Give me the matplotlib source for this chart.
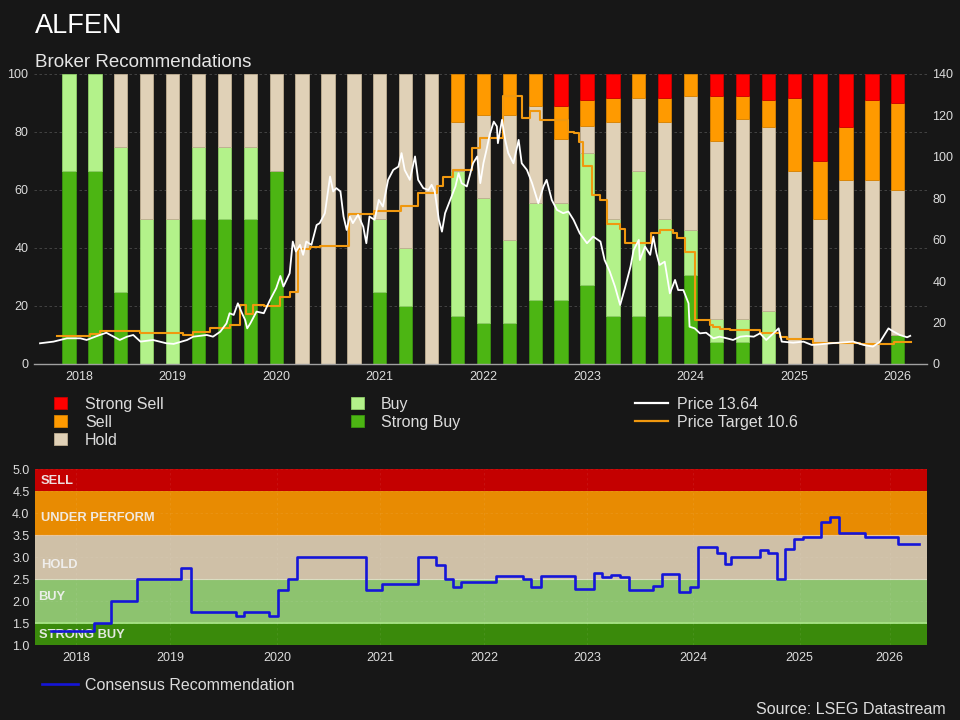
import matplotlib
matplotlib.use("Agg")
import matplotlib.pyplot as plt
from matplotlib.patches import Rectangle
from matplotlib.lines import Line2D
from matplotlib.transforms import blended_transform_factory
import numpy as np

plt.rcParams['font.family'] = ['Liberation Sans', 'DejaVu Sans']

# ---------------- data ----------------
title = "ALFEN"
subtitle = "Broker Recommendations"

bar_dates = [2018.00, 2018.25, 2018.50, 2018.75, 2019.00, 2019.25, 2019.50, 2019.75,
             2020.00, 2020.25, 2020.50, 2020.75, 2021.00, 2021.25, 2021.50, 2021.75,
             2022.00, 2022.25, 2022.50, 2022.75, 2023.00, 2023.25, 2023.50, 2023.75,
             2024.00, 2024.25, 2024.50, 2024.75, 2025.00, 2025.25, 2025.50, 2025.75,
             2026.00]
strong_buy = [66.7, 66.7, 25, 0, 0, 50, 50, 50, 66.7, 0, 0, 0, 25, 20, 0, 16.7,
              14.3, 14.3, 22.2, 22.2, 27.3, 16.7, 16.7, 16.7, 30.8, 7.7, 7.7, 0, 0, 0, 0, 0, 10]
buy = [33.3, 33.3, 50, 50, 50, 25, 25, 25, 0, 0, 0, 0, 25, 20, 0, 50,
       42.9, 28.6, 33.3, 33.3, 45.5, 33.3, 50, 33.3, 15.4, 7.7, 7.7, 18.2, 0, 0, 0, 0, 0]
hold = [0, 0, 25, 50, 50, 25, 25, 25, 33.3, 100, 100, 100, 50, 60, 100, 16.7,
        28.6, 42.9, 33.3, 22.2, 9.1, 33.3, 25, 33.3, 46.2, 61.5, 69.2, 63.6, 66.7, 50, 63.6, 63.6, 50]
sell = [0, 0, 0, 0, 0, 0, 0, 0, 0, 0, 0, 0, 0, 0, 0, 16.7,
        14.3, 14.3, 11.1, 11.1, 9.1, 8.3, 8.3, 8.3, 7.7, 15.4, 7.7, 9.1, 25, 20, 18.2, 27.3, 30]
strong_sell = [0, 0, 0, 0, 0, 0, 0, 0, 0, 0, 0, 0, 0, 0, 0, 0,
               0, 0, 0, 11.1, 9.1, 8.3, 0, 8.3, 0, 7.7, 7.7, 9.1, 8.3, 30, 18.2, 9.1, 10]

price_dates = [2017.72, 2017.85, 2017.98, 2018.11, 2018.17, 2018.27, 2018.36, 2018.43, 2018.49,
               2018.56, 2018.62, 2018.69, 2018.81, 2018.94, 2019.01, 2019.14, 2019.20, 2019.33,
               2019.39, 2019.46, 2019.52, 2019.55, 2019.59, 2019.63, 2019.67, 2019.70, 2019.72,
               2019.75, 2019.81, 2019.88, 2019.94, 2020.00, 2020.04, 2020.07, 2020.10, 2020.13,
               2020.16, 2020.19, 2020.23, 2020.26, 2020.29, 2020.34, 2020.39, 2020.42, 2020.47,
               2020.52, 2020.55, 2020.58, 2020.62, 2020.65, 2020.68, 2020.71, 2020.74, 2020.79,
               2020.84, 2020.87, 2020.90, 2020.95, 2020.99, 2021.03, 2021.08, 2021.13, 2021.18,
               2021.21, 2021.24, 2021.29, 2021.34, 2021.37, 2021.42, 2021.47, 2021.50, 2021.53,
               2021.57, 2021.60, 2021.63, 2021.68, 2021.73, 2021.76, 2021.79, 2021.84, 2021.87,
               2021.90, 2021.94, 2021.97, 2022.00, 2022.03, 2022.06, 2022.10, 2022.13, 2022.14,
               2022.18, 2022.21, 2022.24, 2022.29, 2022.34, 2022.37, 2022.42, 2022.47, 2022.53,
               2022.58, 2022.61, 2022.66, 2022.71, 2022.77, 2022.82, 2022.87, 2022.93, 2023.00,
               2023.06, 2023.13, 2023.17, 2023.22, 2023.27, 2023.32, 2023.37, 2023.42, 2023.45,
               2023.50, 2023.51, 2023.56, 2023.61, 2023.64, 2023.67, 2023.70, 2023.75, 2023.80,
               2023.85, 2023.88, 2023.93, 2023.98, 2023.99, 2024.04, 2024.09, 2024.15, 2024.22,
               2024.28, 2024.35, 2024.41, 2024.48, 2024.54, 2024.61, 2024.67, 2024.73, 2024.80,
               2024.85, 2024.88, 2024.99, 2025.09, 2025.17, 2025.25, 2025.35, 2025.44, 2025.57,
               2025.67, 2025.76, 2025.83, 2025.88, 2025.91, 2025.96, 2026.02, 2026.09, 2026.12]
price_values = [10.0, 10.8, 12.4, 12.4, 11.6, 13.5, 15.1, 13.2, 11.6,
                13.2, 14.0, 10.8, 11.6, 10.0, 9.7, 11.6, 13.2, 14.0,
                13.2, 15.6, 19.6, 24.5, 23.7, 29.3, 24.5, 21.3, 17.2,
                19.6, 25.3, 24.5, 30.9, 36.6, 42.5, 37.4, 40.6, 43.8,
                59.1, 54.3, 57.5, 52.7, 59.1, 57.5, 67.1, 68.0, 72.8,
                90.5, 83.3, 84.9, 83.3, 71.2, 64.7, 71.2, 68.0, 72.0,
                66.3, 58.3, 71.2, 69.6, 79.2, 76.0, 88.9, 93.7, 95.3,
                101.8, 93.7, 88.9, 100.2, 88.9, 84.9, 84.0, 86.5, 83.3,
                69.6, 63.9, 72.8, 79.2, 85.7, 92.1, 87.3, 85.7, 91.3,
                96.9, 100.2, 87.3, 96.9, 103.4, 110.6, 117.0, 114.7, 106.6,
                117.9, 108.2, 101.8, 96.9, 108.2, 96.9, 93.7, 87.3, 77.6,
                85.7, 88.9, 79.2, 74.4, 72.8, 73.6, 69.6, 63.1, 58.3,
                61.5, 59.1, 50.2, 44.6, 37.4, 28.5, 37.4, 47.0, 55.0,
                59.9, 50.2, 56.7, 52.7, 61.5, 53.5, 47.8, 49.4, 34.1,
                40.6, 35.7, 35.7, 29.3, 18.0, 17.2, 14.8, 15.1, 12.4,
                13.2, 12.4, 11.6, 13.2, 13.5, 13.2, 14.8, 11.6, 14.8,
                17.2, 10.8, 10.3, 10.8, 9.2, 9.5, 10.0, 10.3, 10.8,
                9.2, 8.4, 10.8, 14.8, 17.2, 15.6, 14.0, 12.9, 13.6]

target_dates = [2017.88, 2018.20, 2018.30, 2018.69, 2019.10, 2019.20, 2019.36, 2019.55, 2019.65,
                2019.71, 2019.78, 2019.88, 2020.04, 2020.13, 2020.21, 2020.33, 2020.42, 2020.70,
                2020.94, 2021.20, 2021.37, 2021.55, 2021.61, 2021.71, 2021.89, 2021.97, 2022.19,
                2022.37, 2022.45, 2022.55, 2022.82, 2022.87, 2022.92, 2022.96, 2023.05, 2023.13,
                2023.19, 2023.32, 2023.37, 2023.62, 2023.70, 2023.83, 2023.87, 2023.95, 2024.04,
                2024.19, 2024.22, 2024.28, 2024.38, 2024.67, 2024.86, 2024.93, 2025.18, 2025.64,
                2025.96, 2026.13]
target_values = [13.5, 14.5, 16.1, 14.8, 14.0, 15.6, 17.2, 18.8, 28.5,
                 24.2, 28.5, 28.0, 32.5, 34.6, 55.4, 56.5, 57.0, 72.5,
                 74.0, 76.3, 82.4, 86.0, 90.5, 93.7, 104.2, 109.0, 129.5,
                 118.7, 121.9, 117.6, 112.2, 111.4, 107.4, 95.7, 81.6, 79.2,
                 67.6, 65.1, 58.6, 63.1, 64.7, 63.4, 60.7, 54.3, 21.3,
                 18.8, 18.0, 16.7, 16.4, 15.1, 12.9, 12.2, 10.3, 9.5,
                 10.5, 10.6]

cons_dates = [2017.82, 2018.23, 2018.40, 2018.65, 2019.07, 2019.17, 2019.60, 2019.68, 2019.92,
              2020.01, 2020.11, 2020.19, 2020.86, 2021.02, 2021.36, 2021.54, 2021.62, 2021.70,
              2021.78, 2022.12, 2022.38, 2022.46, 2022.55, 2022.88, 2023.06, 2023.14, 2023.23,
              2023.32, 2023.40, 2023.63, 2023.72, 2023.89, 2023.99, 2024.07, 2024.25, 2024.33,
              2024.39, 2024.67, 2024.75, 2024.83, 2024.91, 2025.00, 2025.08, 2025.26, 2025.34,
              2025.43, 2025.68, 2026.00, 2026.20]
cons_values = [1.33, 1.5, 2.0, 2.5, 2.75, 1.75, 1.67, 1.75, 1.67,
               2.25, 2.5, 3.0, 2.25, 2.4, 3.0, 2.83, 2.5, 2.33,
               2.43, 2.58, 2.5, 2.33, 2.57, 2.27, 2.65, 2.54, 2.6,
               2.54, 2.25, 2.34, 2.61, 2.21, 2.31, 3.24, 3.09, 2.84,
               3.0, 3.16, 3.09, 2.5, 3.18, 3.41, 3.47, 3.79, 3.92,
               3.54, 3.47, 3.29, 3.29]

year_labels = ["2018", "2019", "2020", "2021", "2022", "2023", "2024", "2025", "2026"]
top_tick_pos = [2018.1, 2019, 2020, 2021, 2022, 2023, 2024, 2025, 2026]
bot_tick_pos = [2018.06, 2018.97, 2020, 2021, 2022, 2023, 2024.02, 2025.05, 2025.92]

band_edges = [1.0, 1.5, 2.5, 3.5, 4.5, 5.0]
band_names = ["STRONG BUY", "BUY", "HOLD", "UNDER PERFORM", "SELL"]
band_label_y = [1.23, 2.09, 2.82, 3.89, 4.74]

price_last = 13.64
target_last = 10.6

# ---------------- style ----------------
BG = '#171717'
C_SS, C_S, C_H, C_B, C_SB = '#ff0000', '#ff9a00', '#e0d1b7', '#b3f28a', '#4cb513'
E_SS, E_S, E_H, E_B, E_SB = '#cc0000', '#d98300', '#bfae92', '#8fcf68', '#3a9410'
BAND_COLS = ['#3a8a0b', '#8dc36f', '#cfc0a7', '#e88b02', '#c40000']
TXT = '#dcdcdc'

W, H = 960, 720
fig = plt.figure(figsize=(9.6, 7.2), dpi=100, facecolor=BG)

def fx(px):
    return px / W

def fy(py):
    return 1 - py / H

# ---------------- top chart ----------------
xmin, xmax = 2017.662, 2026.282
ax = fig.add_axes([fx(34), fy(364), fx(927) - fx(34), fy(74) - fy(364)])
ax.set_facecolor(BG)
ax.set_xlim(xmin, xmax)
ax.set_ylim(0, 100)

dates = np.array(bar_dates)
segments = [np.array(strong_buy), np.array(buy), np.array(hold), np.array(sell), np.array(strong_sell)]
fills = [C_SB, C_B, C_H, C_S, C_SS]
edges = [E_SB, E_B, E_H, E_S, E_SS]
bw = 0.128
bottom = np.zeros(len(dates))
for vals, fc, ec in zip(segments, fills, edges):
    keep = vals > 0
    ax.bar(dates[keep], vals[keep], width=bw, bottom=bottom[keep], color=fc, edgecolor=ec,
           lw=0.6, zorder=2)
    bottom = bottom + vals

ax.set_yticks(np.arange(0, 101, 20))
ax.yaxis.grid(True, ls=(0, (3, 3)), color='#4a4a4a', lw=0.6, zorder=0)
ax.set_axisbelow(True)
ax.set_xticks(top_tick_pos)
ax.set_xticklabels(year_labels)
ax.tick_params(axis='both', length=0, colors=TXT, labelsize=9)
ax.tick_params(axis='x', pad=5)
ax.tick_params(axis='y', pad=4)
for sp in ['left', 'right', 'top']:
    ax.spines[sp].set_visible(False)
ax.spines['bottom'].set_color('#a0a0a0')
ax.spines['bottom'].set_linewidth(1.0)

ax2 = ax.twinx()
ax2.set_ylim(0, 140)
ax2.set_yticks(np.arange(0, 141, 20))
ax2.tick_params(axis='y', length=0, colors=TXT, labelsize=9, pad=4)
for sp in ax2.spines.values():
    sp.set_visible(False)
ax2.plot(target_dates, target_values, drawstyle='steps-post', color='#f0980f', lw=1.5, zorder=3)
ax2.plot(price_dates, price_values, color='white', lw=1.3, zorder=4)

# ---------------- bottom chart ----------------
bx = fig.add_axes([fx(35), fy(645), fx(927) - fx(35), fy(469.3) - fy(645)])
bx.set_facecolor(BG)
bx.set_xlim(xmin, xmax)
bx.set_ylim(1, 5)
for i in range(len(band_names)):
    bx.axhspan(band_edges[i], band_edges[i + 1], color=BAND_COLS[i], lw=0, zorder=0)
bx.axhline(1.5, color='#a6e385', lw=1.3, zorder=1)
bx.axhline(2.5, color='#d9dcc0', lw=0.8, zorder=1)
bx.axhline(3.5, color='#e8c49a', lw=0.8, zorder=1)
bx.grid(True, ls=(0, (3, 3)), color='white', alpha=0.08, lw=0.6)
trans = blended_transform_factory(bx.transAxes, bx.transData)
label_x = [0.004, 0.004, 0.007, 0.007, 0.006]
for name, yv, lx in zip(band_names, band_label_y, label_x):
    bx.text(lx, yv, name, transform=trans, color='#f2f2f2', alpha=0.92,
            fontsize=9.3, fontweight='bold', va='center', ha='left', zorder=2)
bx.plot(cons_dates, cons_values, drawstyle='steps-post', color='#1515d8', lw=1.9, zorder=3)
bx.set_yticks(np.arange(1.0, 5.01, 0.5))
bx.set_yticklabels([f"{v:.1f}" for v in np.arange(1.0, 5.01, 0.5)])
bx.set_xticks(bot_tick_pos)
bx.set_xticklabels(year_labels)
bx.tick_params(axis='both', length=0, colors=TXT, labelsize=9)
bx.tick_params(axis='x', pad=5)
bx.tick_params(axis='y', pad=4)
for sp in bx.spines.values():
    sp.set_visible(False)

# ---------------- titles ----------------
fig.text(fx(35), fy(32.7), title, color='white', fontsize=19.5, va='baseline', ha='left')
fig.text(fx(35), fy(67), subtitle, color='#e6e6e6', fontsize=13.5, va='baseline', ha='left')

# ---------------- legend (top) ----------------
leg_fs = 11.5
col1 = [("Strong Sell", C_SS, E_SS), ("Sell", C_S, E_S), ("Hold", C_H, E_H)]
col2 = [("Buy", C_B, E_B), ("Strong Buy", C_SB, E_SB)]
for col, (mx, tx) in ((col1, (54, 85)), (col2, (351, 381))):
    for i, (lab, fc, ec) in enumerate(col):
        base = 409 + 18 * i
        fig.add_artist(Rectangle((fx(mx), fy(base)), 13 / W, 12.5 / H, transform=fig.transFigure,
                                 facecolor=fc, edgecolor=ec, lw=0.6))
        fig.text(fx(tx), fy(base), lab, color=TXT, fontsize=leg_fs, va='baseline', ha='left')
col3 = [(f"Price {price_last}", 'white'), (f"Price Target {target_last}", '#f0980f')]
for i, (lab, c) in enumerate(col3):
    base = 409 + 18 * i
    fig.add_artist(Line2D([fx(635), fx(668)], [fy(base - 6), fy(base - 6)], transform=fig.transFigure,
                          color=c, lw=1.6))
    fig.text(fx(677), fy(base), lab, color=TXT, fontsize=leg_fs, va='baseline', ha='left')

# ---------------- legend (bottom) ----------------
fig.add_artist(Line2D([fx(42), fx(78)], [fy(684), fy(684)], transform=fig.transFigure,
                      color='#1515d8', lw=1.9))
fig.text(fx(85), fy(690), "Consensus Recommendation", color=TXT, fontsize=leg_fs,
         va='baseline', ha='left')

fig.text(fx(946), fy(714), "Source: LSEG Datastream", color=TXT, fontsize=leg_fs,
         va='baseline', ha='right')

fig.savefig("out.png", dpi=100, facecolor=BG)
